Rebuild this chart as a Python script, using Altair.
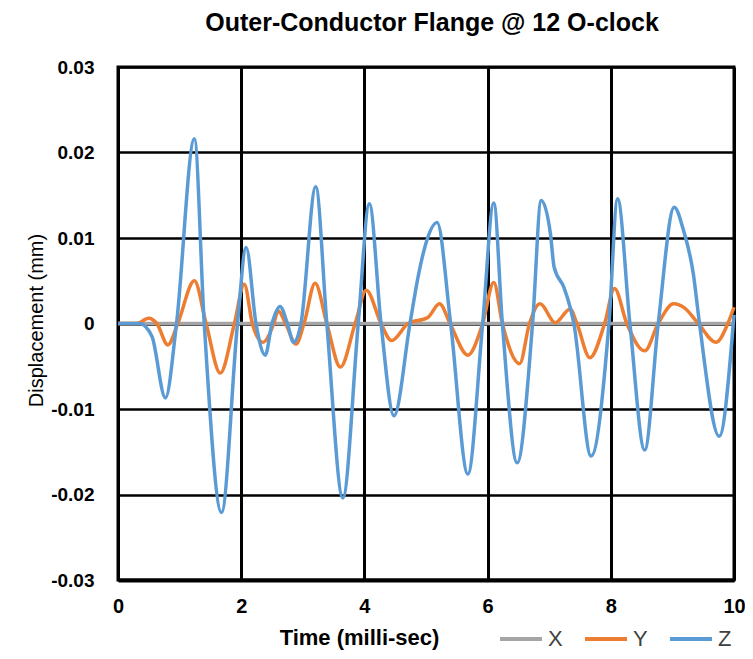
import altair as alt
import pandas as pd

# ---- data ----
x_time = [0, 10]
x_disp = [0, 0]

y_time = [0, 0.3, 0.5, 0.63, 0.81, 0.97, 1.24, 1.43, 1.66, 1.89, 2.05, 2.18, 2.35, 2.53,
          2.6, 2.72, 2.89, 3.02, 3.2, 3.39, 3.61, 3.85, 4.03, 4.27, 4.44, 4.71, 5.03,
          5.22, 5.39, 5.68, 5.92, 6.1, 6.24, 6.52, 6.68, 6.85, 7.1, 7.34, 7.45, 7.66,
          7.9, 8.06, 8.26, 8.55, 8.77, 9.02, 9.2, 9.42, 9.71, 9.9, 10]
y_disp = [0, 0, 0.0006, 0, -0.0025, 0, 0.005, 0, -0.0058, 0, 0.0046, 0, -0.0022, 0,
          0.0015, 0, -0.0024, 0, 0.0047, 0, -0.0051, 0, 0.0039, 0, -0.002, 0, 0.0007,
          0.0023, 0, -0.0037, 0, 0.0048, 0, -0.0047, 0, 0.0023, 0.0001, 0.0017, 0, -0.004,
          0, 0.0041, 0, -0.0032, 0, 0.0023, 0.0018, 0, -0.0022, 0, 0.0019]

z_time = [0, 0.35, 0.55, 0.77, 0.95, 1.24, 1.4, 1.68, 1.94, 2.08, 2.24, 2.39, 2.5, 2.63,
          2.75, 2.85, 2.97, 3.21, 3.39, 3.65, 3.9, 4.08, 4.27, 4.48, 4.74, 4.87, 4.98,
          5.18, 5.4, 5.68, 5.92, 6.1, 6.24, 6.48, 6.73, 6.87, 7.02, 7.08, 7.24, 7.34,
          7.4, 7.68, 7.97, 8.11, 8.31, 8.55, 8.77, 9.03, 9.18, 9.34, 9.44, 9.76, 10]
z_disp = [0, 0, -0.0015, -0.0087, 0, 0.0216, 0, -0.0221, 0, 0.0089, 0, -0.0037, 0, 0.002,
          0, -0.0022, 0, 0.016, 0, -0.0204, 0, 0.014, 0, -0.0108, 0, 0.0054, 0.0089,
          0.0118, 0, -0.0176, 0, 0.0141, 0, -0.0163, 0, 0.0144, 0.0105, 0.0066, 0.0042, 0.0019,
          0, -0.0155, 0, 0.0146, 0, -0.0148, 0, 0.0136, 0.0109, 0.0058, 0, -0.0132, 0.001]

series_names = ["X", "Y", "Z"]
series_colors = ["#A5A5A5", "#ED7D31", "#5B9BD5"]
x_ticks = [0, 2, 4, 6, 8, 10]
y_ticks = [-0.03, -0.02, -0.01, 0, 0.01, 0.02, 0.03]

frames = []
for name, t, v in zip(series_names, [x_time, y_time, z_time], [x_disp, y_disp, z_disp]):
    frames.append(pd.DataFrame({"t": t, "v": v, "series": name}))
df = pd.concat(frames, ignore_index=True)

FONT = "Liberation Sans"

chart = alt.Chart(df).mark_line(interpolate="monotone", strokeWidth=3.5).encode(
    x=alt.X("t:Q",
            scale=alt.Scale(domain=[0, 10], nice=False, zero=False),
            axis=alt.Axis(values=x_ticks, title="Time (milli-sec)",
                          grid=True, gridColor="black", gridWidth=3, gridOpacity=1,
                          domainColor="black", domainWidth=4, ticks=False,
                          labelFont=FONT, labelFontSize=20, labelFontWeight="bold",
                          labelColor="black", labelPadding=16, labelFlush=False,
                          titleFont=FONT, titleFontSize=22, titleFontWeight="bold",
                          titleColor="black", titleX=241, titleY=57,
                          titleAnchor=None, titleAlign="center", titleBaseline="middle")),
    y=alt.Y("v:Q",
            scale=alt.Scale(domain=[-0.03, 0.03], nice=False, zero=False),
            axis=alt.Axis(values=y_ticks, title="Displacement (mm)",
                          labelExpr="datum.value == 0 ? '0' : (datum.value < 0 ? '-' + format(-datum.value, '.2f') : format(datum.value, '.2f'))",
                          grid=True, gridColor="black", gridWidth=2.5, gridOpacity=1,
                          domainColor="black", domainWidth=3, ticks=False,
                          labelFont=FONT, labelFontSize=19, labelFontWeight="bold",
                          labelColor="black", labelPadding=24,
                          titleFont=FONT, titleFontSize=20, titleFontWeight="normal",
                          titleColor="black", titleX=-82, titleY=253,
                          titleAlign="center", titleBaseline="middle")),
    color=alt.Color("series:N",
                    scale=alt.Scale(domain=series_names, range=series_colors),
                    legend=alt.Legend(title=None, orient="none", direction="horizontal",
                                      legendX=380, legendY=549,
                                      symbolType="stroke", symbolSize=1764,
                                      symbolStrokeWidth=4, labelFont=FONT,
                                      labelFontSize=22, labelColor="#404040",
                                      labelOffset=4, columnPadding=14, padding=0)),
).properties(
    width=616,
    height=513,
    title=alt.TitleParams("Outer-Conductor Flange @ 12 O-clock", font=FONT,
                          fontSize=25, fontWeight="bold", color="black",
                          anchor="middle", dx=6, offset=22),
    autosize=alt.AutoSizeParams(type="none"),
    padding={"left": 110, "top": 59, "right": 11, "bottom": 71},
).configure_view(stroke="black", strokeWidth=3)

chart.save("out.html", embed_options={"renderer": "svg", "actions": False})
